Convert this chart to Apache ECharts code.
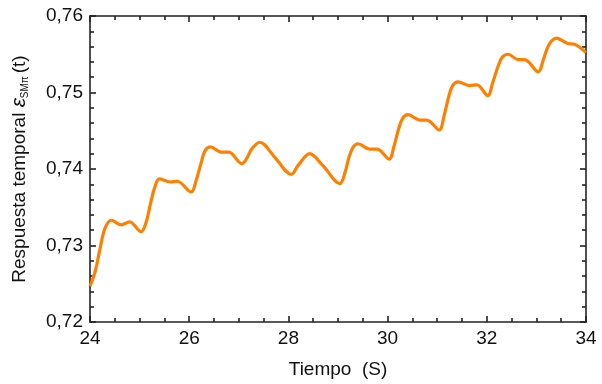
<!DOCTYPE html>
<html>
<head>
<meta charset="utf-8">
<script src="https://cdn.jsdelivr.net/npm/echarts@6/dist/echarts.min.js"></script>
<style>html,body{margin:0;padding:0;background:#fff}#c{width:602px;height:384px}</style>
</head>
<body>
<div id="c"></div>
<script>
var times = [24.00,24.10,24.20,24.30,24.43,24.63,24.80,25.03,25.13,25.22,25.30,25.40,25.62,25.76,26.04,26.14,26.24,26.32,26.43,26.65,26.80,27.06,27.16,27.26,27.42,27.73,28.06,28.20,28.43,28.70,29.04,29.14,29.22,29.30,29.40,29.64,29.79,30.03,30.13,30.22,30.30,30.41,30.65,30.79,31.04,31.14,31.23,31.31,31.42,31.65,31.80,32.02,32.12,32.22,32.31,32.43,32.63,32.76,33.04,33.14,33.22,33.30,33.40,33.63,33.77,34.00];
var values = [0.7247,0.7265,0.7295,0.7322,0.7333,0.7327,0.7331,0.7318,0.7330,0.7355,0.7375,0.7387,0.7383,0.7384,0.7370,0.7385,0.7408,0.7424,0.7429,0.7422,0.7422,0.7407,0.7414,0.7426,0.7435,0.7415,0.7393,0.7405,0.7420,0.7404,0.7381,0.7395,0.7415,0.7428,0.7433,0.7426,0.7426,0.7413,0.7430,0.7452,0.7466,0.7471,0.7464,0.7464,0.7451,0.7470,0.7494,0.7509,0.7514,0.7509,0.7510,0.7496,0.7513,0.7533,0.7546,0.7550,0.7543,0.7543,0.7527,0.7543,0.7558,0.7567,0.7571,0.7564,0.7563,0.7552];
var xTicks = [24,26,28,30,32,34];
var yTicks = ['0,72','0,73','0,74','0,75','0,76'];

var font = 'Liberation Sans, Arial, sans-serif';
var lineStyle = {color:'#222', width:1.6};
var data = times.map(function(t,i){return [t, values[i]];});

function xAx(pos, show){
  return {type:'value', position:pos, min:24, max:34, interval:2,
    axisLine:{show:true, onZero:false, lineStyle:lineStyle},
    axisTick:{show:true, inside:true, length:6, lineStyle:lineStyle},
    minorTick:{show:true, splitNumber:4, length:4, lineStyle:lineStyle},
    splitLine:{show:false},
    axisLabel:{show:show, margin:7, color:'#111', fontSize:19, fontFamily:font,
      formatter:function(v){return String(v);}},
    name: show ? 'Tiempo  (S)' : '', nameLocation:'middle', nameGap:38,
    nameTextStyle:{color:'#111', fontSize:19, fontFamily:font}
  };
}
function yAx(pos, show){
  return {type:'value', position:pos, min:0.72, max:0.76, interval:0.01,
    axisLine:{show:true, onZero:false, lineStyle:lineStyle},
    axisTick:{show:true, inside:true, length:6, lineStyle:lineStyle},
    minorTick:{show:true, splitNumber:5, length:4, lineStyle:lineStyle},
    splitLine:{show:false},
    axisLabel:{show:show, margin:7, color:'#111', fontSize:19, fontFamily:font,
      formatter:function(v){var i=Math.round((v-0.72)/0.01); return yTicks[i];}},
    name: show ? '{a|Respuesta temporal }{e|ε}{s|SMπ}{a|(t)}' : '',
    nameLocation:'middle', nameGap:60, nameRotate:90,
    nameTextStyle:{color:'#111', fontSize:19, fontFamily:font,
      rich:{a:{fontSize:19, fontFamily:font, color:'#111'},
            e:{fontSize:21, fontFamily:font, color:'#111', fontStyle:'italic'},
            s:{fontSize:10, fontFamily:font, color:'#111', verticalAlign:'bottom', padding:[9,3,0,0]}}}
  };
}

var chart = echarts.init(document.getElementById('c'), null, {renderer:'canvas'});
chart.setOption({
  animation:false,
  backgroundColor:'#fff',
  grid:{left:90, right:16, top:16, bottom:61},
  xAxis:[xAx('bottom', true), xAx('top', false)],
  yAxis:[yAx('left', true), yAx('right', false)],
  series:[{type:'line', data:data, smooth:0.35, showSymbol:false,
    lineStyle:{color:'#FF8000', width:3.2}, xAxisIndex:0, yAxisIndex:0}]
});
</script>
</body>
</html>
